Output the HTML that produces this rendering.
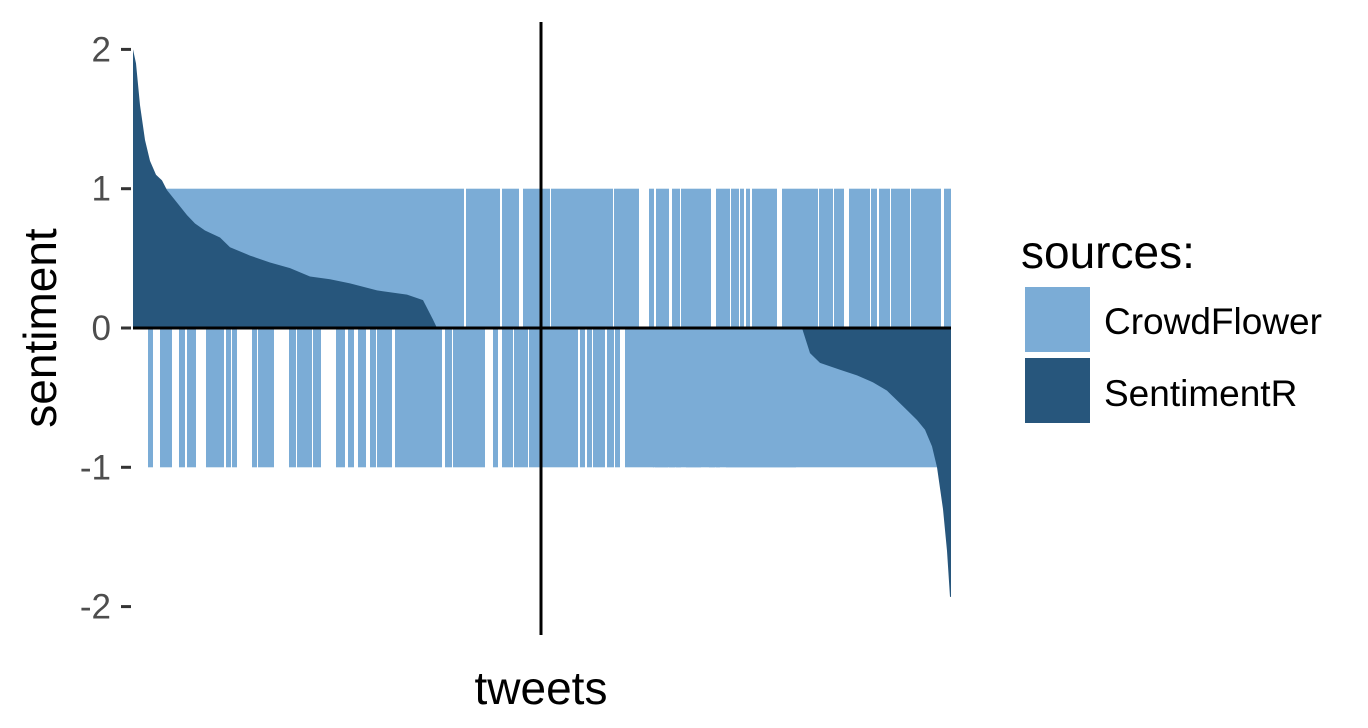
<!DOCTYPE html>
<html><head><meta charset="utf-8"><style>
body{margin:0;background:#fff;}
svg{display:block;font-family:"Liberation Sans",sans-serif;}
</style></head><body>
<svg id="c" width="1368" height="728"></svg>
<script>
const N = 818;
const yTicks = [2, 1, 0, -1, -2];
const yTickLabels = ["2", "1", "0", "-1", "-2"];
const cfPosStart = [0,333,369,390,418,481,516,523,539,548,583,598,607,613,619,649,686,701,716,738,746,758,778,811];
const cfPosEnd   = [331,367,386,417,480,506,521,536,547,578,597,606,611,617,644,685,700,711,737,744,757,777,808,818];
const cfNegStart = [15,27,46,54,73,78,86,93,99,119,125,132,156,164,169,180,203,215,225,237,244,262,312,320,360,369,381,396,447,454,460,474,482,492,520,522,536,543,553,576,583,593,599,663];
const cfNegEnd   = [20,39,52,63,78,86,91,98,104,124,132,141,163,169,179,188,212,221,233,243,259,309,319,352,365,380,395,445,452,459,472,481,487,521,535,542,548,568,582,587,599,663,818];
const srIndex = [0,3,7,12,17,23,29,34,44,54,62,72,87,97,117,137,157,177,197,217,244,274,290,295,300,304,669,677,687,707,724,740,754,764,774,784,792,799,804,810,814,817];
const srValue = [2.0,1.9,1.6,1.35,1.2,1.1,1.06,0.99,0.9,0.81,0.75,0.70,0.65,0.58,0.52,0.47,0.43,0.37,0.35,0.32,0.27,0.24,0.20,0.13,0.06,0,0,-0.18,-0.25,-0.30,-0.34,-0.39,-0.45,-0.52,-0.59,-0.66,-0.73,-0.85,-1.0,-1.3,-1.6,-1.93];

const X0 = 133, X1 = 951, Y0 = 328, PU = 139.3;
const xs = t => X0 + t * (X1 - X0) / N;
const ys = v => Y0 - v * PU;
const NS = "http://www.w3.org/2000/svg";
const svg = document.getElementById('c');
function mk(tag, attrs, parent) {
  const e = document.createElementNS(NS, tag);
  for (const k in attrs) e.setAttribute(k, attrs[k]);
  (parent || svg).appendChild(e);
  return e;
}
const light = "#7bacd6", dark = "#27567c";
const gCF = mk('g', {});


for (let i = 0; i < cfPosStart.length; i++) {
  const r = mk('rect', {x: xs(cfPosStart[i]), y: ys(1), width: xs(cfPosEnd[i]) - xs(cfPosStart[i]), height: ys(0) - ys(1), fill: light}, gCF);
  
  
}
for (let i = 0; i < cfNegStart.length; i++) {
  const r = mk('rect', {x: xs(cfNegStart[i]), y: ys(0), width: xs(cfNegEnd[i]) - xs(cfNegStart[i]), height: ys(-1) - ys(0), fill: light}, gCF);
  
  
}
let d = "M" + xs(srIndex[0]) + "," + ys(0);
for (let i = 0; i < srIndex.length; i++) {
  d += " L" + xs(srIndex[i]) + "," + ys(srValue[i]);
}
d += " L" + xs(N) + "," + ys(srValue[srValue.length - 1]) + " L" + xs(N) + "," + ys(0) + " Z";
const sr = mk('path', {d: d, fill: dark});



const h = mk('line', {x1: X0, x2: X1, y1: Y0, y2: Y0, stroke: "#000", 'stroke-width': 3});


const v = mk('line', {x1: 541, x2: 541, y1: 22, y2: 635, stroke: "#000", 'stroke-width': 3});



for (let i = 0; i < yTicks.length; i++) {
  const tk = mk('line', {x1: 121, x2: 131, y1: ys(yTicks[i]), y2: ys(yTicks[i]), stroke: "#333", 'stroke-width': 3});
  
  
  const tl = mk('text', {x: 111, y: ys(yTicks[i]) + 12, 'text-anchor': 'end', 'font-size': 35, fill: "#4d4d4d"});
  tl.textContent = yTickLabels[i];
  
  
}
</script>
<script>
(function(){
  const svg = document.getElementById('c');
  svg.insertAdjacentHTML('beforeend',
  '<text transform="translate(56,328) rotate(-90)" text-anchor="middle" font-size="46" fill="#000">sentiment</text>' +
  '<text x="541" y="704" text-anchor="middle" font-size="46" fill="#000">tweets</text>' +
  '<text x="1021" y="268" font-size="46" fill="#000">sources:</text>' +
  '<rect x="1025" y="287" width="65" height="65" fill="#7bacd6"/>' +
  '<rect x="1025" y="358" width="65" height="65" fill="#27567c"/>' +
  '<text x="1104" y="334" font-size="37" fill="#000">CrowdFlower</text>' +
  '<text x="1104" y="406" font-size="37" fill="#000">SentimentR</text>');
})();
</script>
</body></html>
